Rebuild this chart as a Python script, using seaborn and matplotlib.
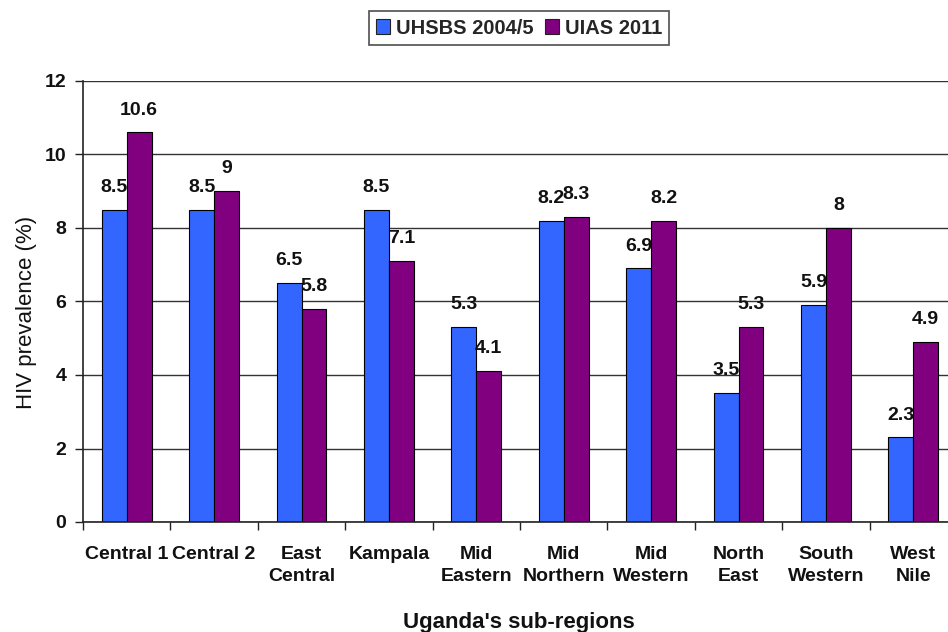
import matplotlib
matplotlib.use("Agg")
import matplotlib.pyplot as plt
import seaborn as sns
import pandas as pd
from matplotlib.ticker import MultipleLocator, FixedLocator

regions = ["Central 1", "Central 2", "East\nCentral", "Kampala", "Mid\nEastern",
           "Mid\nNorthern", "Mid\nWestern", "North\nEast", "South\nWestern", "West\nNile"]
uhsbs_2004 = [8.5, 8.5, 6.5, 8.5, 5.3, 8.2, 6.9, 3.5, 5.9, 2.3]
uias_2011 = [10.6, 9, 5.8, 7.1, 4.1, 8.3, 8.2, 5.3, 8, 4.9]
series_names = ["UHSBS 2004/5", "UIAS 2011"]
y_ticks = [0, 2, 4, 6, 8, 10, 12]

df = pd.DataFrame({
    "region": regions * 2,
    "survey": [series_names[0]] * len(regions) + [series_names[1]] * len(regions),
    "prevalence": uhsbs_2004 + uias_2011,
})

sns.set_style("white")
plt.rcParams["font.family"] = ["Liberation Sans", "DejaVu Sans"]

fig = plt.figure(figsize=(9.48, 6.32), dpi=100)
ax = fig.add_axes([83 / 948, 110 / 632, 874 / 948, 441 / 632])

palette = {series_names[0]: "#3366FF", series_names[1]: "#800080"}
sns.barplot(data=df, x="region", y="prevalence", hue="survey", order=regions,
            hue_order=series_names, palette=palette, width=0.57, gap=0,
            saturation=1, edgecolor="black", linewidth=0.8, ax=ax, legend=True)

for cont in ax.containers:
    vals = [b.get_height() for b in cont]
    ax.bar_label(cont, labels=[f"{v:g}" for v in vals], padding=10,
                 fontsize=14, fontweight="bold", color="#111111")

ax.set_ylim(0, 12)
ax.set_xlim(-0.5, len(regions) - 0.5)
ax.yaxis.set_major_locator(FixedLocator(y_ticks))
ax.grid(axis="y", color="#333333", linewidth=1.0)
ax.set_axisbelow(True)

for side in ["top", "right"]:
    ax.spines[side].set_visible(False)
for side in ["left", "bottom"]:
    ax.spines[side].set_color("#222222")
    ax.spines[side].set_linewidth(1.2)

ax.tick_params(axis="y", which="major", direction="out", length=6, width=1,
               color="#222222", pad=6, labelsize=14, left=True)
ax.tick_params(axis="x", which="major", length=0, pad=17, labelsize=14)
ax.xaxis.set_minor_locator(MultipleLocator(1, offset=0.5))
ax.tick_params(axis="x", which="minor", direction="out", length=6, width=1,
               color="#222222", bottom=True)
for lab in ax.get_xticklabels() + ax.get_yticklabels():
    lab.set_fontweight("bold")
    lab.set_color("#111111")
for lab in ax.get_xticklabels():
    lab.set_linespacing(1.45)

ax.set_xlabel("Uganda's sub-regions", fontsize=16, fontweight="bold", color="#111111")
ax.xaxis.set_label_coords(0.499, -0.204)
ax.xaxis.label.set_va("top")
ax.set_ylabel("HIV prevalence (%)", fontsize=16, color="#111111")
ax.yaxis.set_label_coords(-0.053, 0.476)

handles, labels = ax.get_legend_handles_labels()
ax.legend_.remove()
leg = fig.legend(handles, labels, loc="center", bbox_to_anchor=(519 / 948, 1 - 28 / 632),
                 ncol=2, frameon=True, fancybox=False,
                 prop={"weight": "bold", "size": 14.5}, handlelength=0.7,
                 handleheight=0.7, handletextpad=0.3, columnspacing=0.55,
                 borderpad=0.35, borderaxespad=0)
leg.get_frame().set_edgecolor("#222222")
leg.get_frame().set_linewidth(1.2)
for h in leg.legend_handles:
    h.set_edgecolor("#222222")
    h.set_linewidth(0.8)

fig.savefig("out.png", dpi=100)
